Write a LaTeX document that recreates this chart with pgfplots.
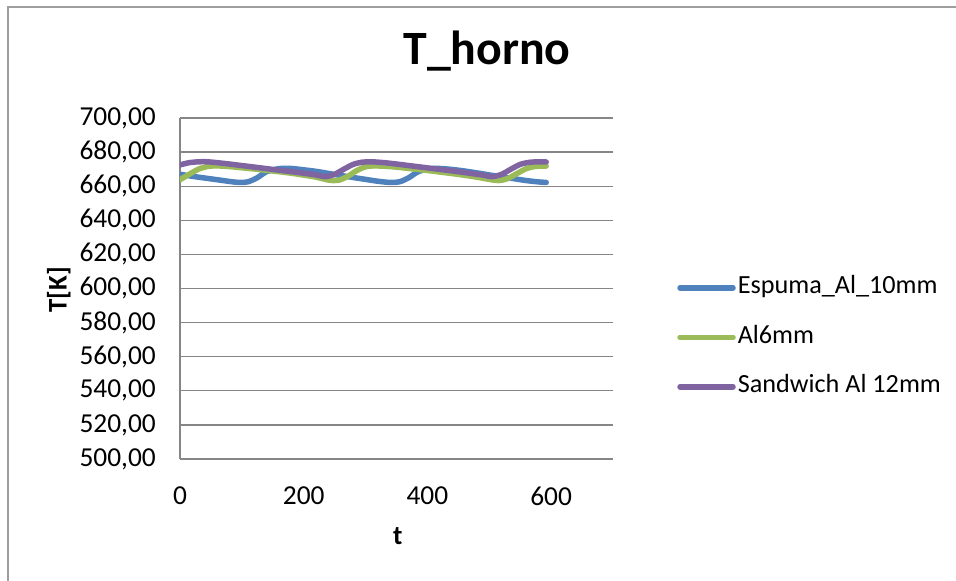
\documentclass[border=0pt]{standalone}
\usepackage{pgfplots}
\pgfplotsset{compat=1.18}
\usepackage{fontspec}
\setmainfont{Carlito}
\definecolor{sblue}{HTML}{4F81BD}
\definecolor{sgreen}{HTML}{9BBB59}
\definecolor{spurple}{HTML}{8064A2}
\definecolor{gridgray}{HTML}{868686}
\begin{document}
\begin{tikzpicture}
\useasboundingbox (-180bp,-122bp) rectangle (776bp,459bp);
\draw[gridgray!80, line width=1.2bp] (-172bp,-140bp) rectangle (800bp,452bp);
\begin{axis}[
  at={(0,0)}, anchor=south west,
  scale only axis, width=433bp, height=341bp,
  xmin=0, xmax=700, ymin=500, ymax=700,
  xtick={0,200,400,600}, ytick={500,520,...,700},
  axis x line=bottom, axis y line=left,
  axis line style={gridgray, line width=1.3bp, -},
  major tick length=0pt,
  ymajorgrids, grid style={gridgray, line width=1.3bp},
  /pgf/number format/assume math mode=true,
  tick label style={font=\fontsize{27.5}{31}\selectfont, text=black},
  yticklabel style={/pgf/number format/fixed, /pgf/number format/fixed zerofill, /pgf/number format/precision=2, /pgf/number format/use comma},
  yticklabel style={anchor=east, inner sep=0pt, xshift=-24bp},
  xticklabel style={anchor=north, inner sep=0pt, yshift=-28bp},
  xlabel={\textbf{t}},
  xlabel style={at={(axis description cs:0.503,0)}, anchor=base, inner sep=0pt, yshift=-85bp, font=\fontsize{27}{31}\selectfont},
  ylabel={\textbf{T[K]}},
  ylabel style={at={(axis description cs:-0.28,0.496)}, anchor=center, inner sep=0pt, font=\fontsize{27}{31}\selectfont},
  title={\textbf{T\_horno}},
  title style={at={(axis description cs:0.709,1)}, anchor=base, inner sep=0pt, yshift=48bp, font=\fontsize{48}{54}\selectfont},
  legend style={at={(1.148,0.357)}, anchor=west, draw=none, fill=none, inner sep=0pt,
    row sep=25.5bp, font=\fontsize{26.3}{31}\selectfont,
    nodes={inner sep=0pt, text height=18bp, text depth=6bp}},
  legend cell align=left,
  legend image code/.code={\draw[#1] (0bp,0bp) -- (53bp,0bp); \path (55bp,0bp);},
  every axis plot/.append style={line width=5.5bp, line join=round, line cap=round},
]
\addplot[sblue, smooth] coordinates {
(0,667) (20,665.8) (40,664.8) (60,663.8) (80,662.8) (95,662.2) (110,662.6) (125,665) (140,668.5) (160,670.3) (180,670.4) (200,669.6) (220,668.7) (240,667.5) (260,666.3) (280,665.1) (300,664) (320,662.9) (340,662.2) (355,662.6) (370,665) (385,668.5) (405,670.3) (420,670.4) (440,669.8) (460,668.9) (480,667.8) (500,666.6) (520,665.5) (540,664.4) (560,663.3) (580,662.5) (592,662.2)};
\addlegendentry{Espuma\_Al\_10mm}
\addplot[sgreen, smooth] coordinates {
(0,663.8) (15,667) (30,670) (45,671.6) (60,671.9) (80,671.5) (100,670.8) (120,670.1) (140,669.3) (160,668.5) (180,667.6) (200,666.5) (220,665.3) (240,663.6) (255,663.4) (270,665.5) (285,669) (300,671.4) (315,671.9) (340,671.5) (360,670.8) (380,670) (400,669.2) (420,668.3) (440,667.4) (460,666.4) (480,665.3) (500,664) (515,663.3) (530,664.5) (545,667.5) (560,670.3) (575,671.6) (592,671.8)};
\addlegendentry{Al6mm}
\addplot[spurple, smooth] coordinates {
(0,672.5) (15,673.8) (30,674.3) (45,674.3) (60,673.8) (80,673) (100,672.1) (120,671.2) (140,670.3) (160,669.4) (180,668.5) (200,667.6) (220,666.6) (235,665.6) (250,667) (265,670) (280,672.8) (295,674.1) (310,674.3) (330,673.8) (350,673) (370,672.1) (390,671.2) (410,670.3) (430,669.4) (450,668.5) (470,667.5) (490,666.5) (505,665.6) (520,667) (535,670) (550,672.8) (565,674) (580,674.3) (592,674.2)};
\addlegendentry{Sandwich Al 12mm}
\end{axis}
\end{tikzpicture}
\end{document}
